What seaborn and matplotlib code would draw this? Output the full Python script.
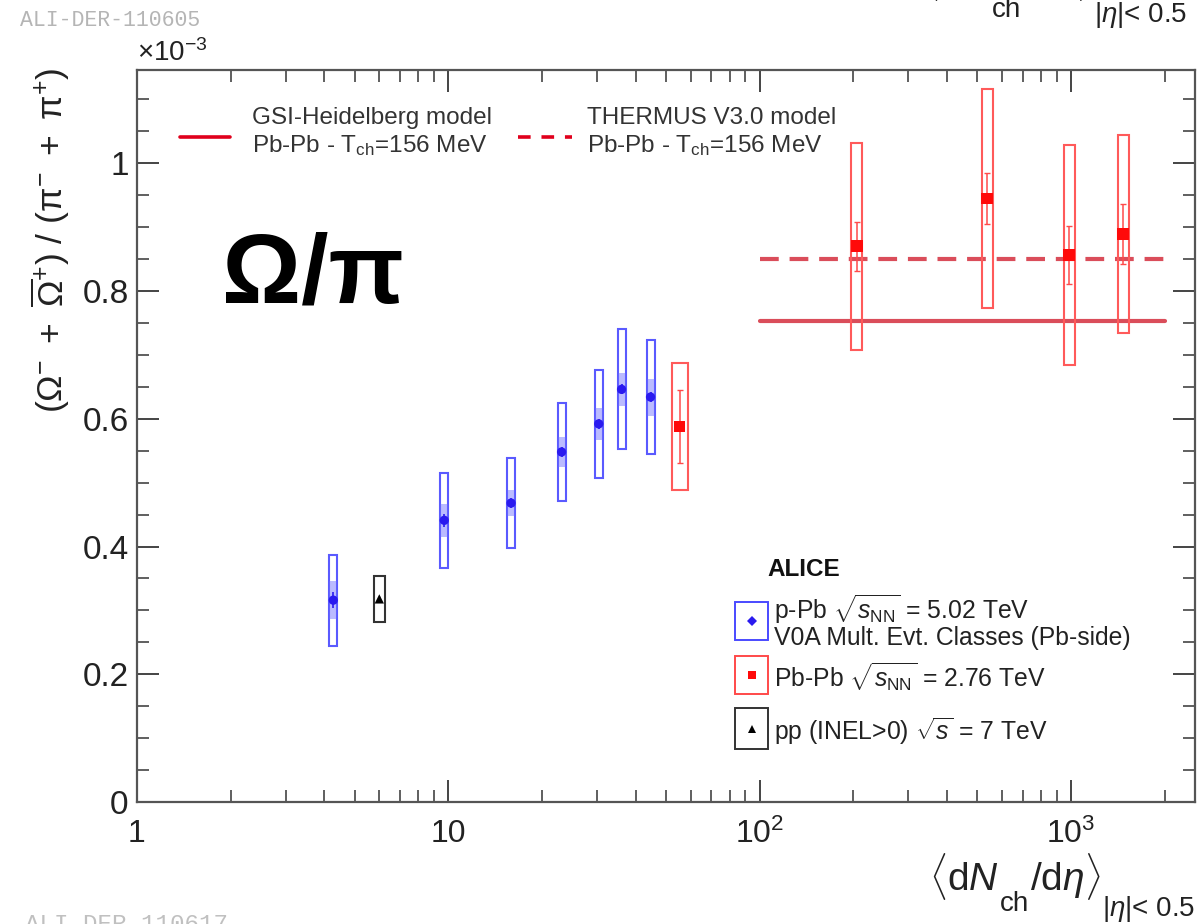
import numpy as np
import pandas as pd
import matplotlib
matplotlib.use("Agg")
import matplotlib.pyplot as plt
from matplotlib.patches import Rectangle
from matplotlib.lines import Line2D
from matplotlib.ticker import FixedLocator, FuncFormatter, LogLocator, NullFormatter
import seaborn as sns

# ---------------- data (y in units of 1e-3) ----------------
ppb_x = [4.27, 9.7, 15.9, 23.1, 30.4, 36.0, 44.6]
ppb_y = [0.316, 0.441, 0.468, 0.548, 0.592, 0.646, 0.634]
ppb_sys = [0.071, 0.074, 0.071, 0.077, 0.084, 0.094, 0.089]
ppb_unc = [0.030, 0.026, 0.020, 0.023, 0.025, 0.026, 0.029]
ppb_stat = [0.012, 0.010, 0.008, 0.008, 0.008, 0.008, 0.008]

pp_x = [6.0]
pp_y = [0.318]
pp_sys = [0.036]
pp_stat = [0.005]

pbpb_x = [55.3, 205, 537, 986, 1469]
pbpb_y = [0.588, 0.870, 0.945, 0.856, 0.889]
pbpb_sys = [0.100, 0.162, 0.172, 0.172, 0.155]
pbpb_stat = [0.057, 0.038, 0.040, 0.045, 0.047]

gsi_value = 0.753
thermus_value = 0.850
model_x = [100, 2000]

x_ticks = [1, 10, 100, 1000]
x_ticklabels = ["1", "10", r"$10^{2}$", r"$10^{3}$"]
y_ticks = [0, 0.2, 0.4, 0.6, 0.8, 1.0]

# ---------------- style ----------------
sns.set_style("ticks")
plt.rcParams["font.family"] = ["Liberation Sans", "DejaVu Sans"]
plt.rcParams["mathtext.fontset"] = "custom"
plt.rcParams["mathtext.rm"] = "Liberation Sans"
plt.rcParams["mathtext.it"] = "Liberation Sans:italic"
plt.rcParams["mathtext.bf"] = "Liberation Sans:bold"

W, H = 1198, 924
fig = plt.figure(figsize=(W / 100, H / 100), dpi=100)
L, R, T, B = 137, 1195, 70, 802
ax = fig.add_axes([L / W, 1 - B / H, (R - L) / W, (B - T) / H])
ax.set_xscale("log")
ax.set_xlim(1, 2500)
ax.set_ylim(0, 1.146)

def fx(px):
    return px / W

def fy(py):
    return 1 - py / H

DEC = 311.0  # pixels per decade

def box(x, y, dy, half_px, ec, fc="none", lw=1.3, alpha=1.0, z=3):
    hw = half_px / DEC
    x0 = x / 10 ** hw
    x1 = x * 10 ** hw
    ax.add_patch(Rectangle((x0, y - dy), x1 - x0, 2 * dy, facecolor=fc,
                           edgecolor=ec, lw=lw, alpha=alpha, zorder=z))

blue = "#2a1aef"
red = "#ff0a0a"

# model lines
ax.plot(model_x, [gsi_value] * 2, color="#d63a48", lw=3.0, alpha=0.9, zorder=2)
ax.plot(model_x, [thermus_value] * 2, color="#d63a48", lw=3.0, alpha=0.9,
        ls=(0, (4.5, 2.6)), zorder=2)

# p-Pb
for x, y, s, u in zip(ppb_x, ppb_y, ppb_sys, ppb_unc):
    box(x, y, s, 4, "#5a5aff", lw=1.5)
    box(x, y, u, 4, "none", fc="#6a6aff", alpha=0.45, lw=0)
ax.errorbar(ppb_x, ppb_y, yerr=ppb_stat, fmt="none", ecolor=blue, elinewidth=1.2, zorder=4)

# pp
for x, y, s in zip(pp_x, pp_y, pp_sys):
    box(x, y, s, 5.5, "#333333", lw=1.5)
ax.errorbar(pp_x, pp_y, yerr=pp_stat, fmt="none", ecolor="black", elinewidth=1.0, zorder=4)

# Pb-Pb
for i, (x, y, s) in enumerate(zip(pbpb_x, pbpb_y, pbpb_sys)):
    box(x, y, s, 8 if i == 0 else 5.5, "#ff5a5a", lw=1.5)
ax.errorbar(pbpb_x, pbpb_y, yerr=pbpb_stat, fmt="none", ecolor="#ff4a4a",
            elinewidth=1.1, capsize=2, capthick=1, zorder=4)

df_ppb = pd.DataFrame({"x": ppb_x, "y": ppb_y})
df_pp = pd.DataFrame({"x": pp_x, "y": pp_y})
df_pbpb = pd.DataFrame({"x": pbpb_x, "y": pbpb_y})
sns.scatterplot(data=df_ppb, x="x", y="y", ax=ax, color=blue, marker="o", s=45,
                edgecolor="none", zorder=5, legend=False)
sns.scatterplot(data=df_pp, x="x", y="y", ax=ax, color="black", marker="^", s=45,
                edgecolor="none", zorder=5, legend=False)
sns.scatterplot(data=df_pbpb, x="x", y="y", ax=ax, color=red, marker="s", s=70,
                edgecolor="none", zorder=5, legend=False)

# ---------------- axes ----------------
ax.set_xlabel("")
ax.set_ylabel("")
ax.xaxis.set_major_locator(FixedLocator(x_ticks))
ax.set_xticklabels(x_ticklabels)
ax.xaxis.set_minor_locator(LogLocator(base=10, subs=np.arange(2, 10)))
ax.xaxis.set_minor_formatter(NullFormatter())
ax.yaxis.set_major_locator(FixedLocator(y_ticks))
ax.yaxis.set_minor_locator(FixedLocator(np.arange(0, 1.15, 0.05)))
ax.yaxis.set_major_formatter(FuncFormatter(lambda v, p: "%g" % round(v, 3)))
for sp in ax.spines.values():
    sp.set_visible(True)
    sp.set_linewidth(1.6)
    sp.set_color("#555555")
ax.tick_params(which="both", direction="in", top=True, right=True, colors="#444444",
               labelcolor="#222222")
ax.tick_params(which="major", length=16, width=1.4, labelsize=23)
ax.tick_params(which="minor", length=8.5, width=1.2)
ax.tick_params(axis="y", which="major", labelsize=24)
ax.tick_params(axis="x", which="major", pad=12)
ax.tick_params(axis="y", which="major", pad=6)

# ---------------- texts ----------------
renderer = fig.canvas.get_renderer()

def rooted_label(x_left, baseline, ch_drop=21, sub_drop=26):
    """x-axis title assembled ROOT-style, with low-set subscripts."""
    pieces = [
        (r"$\langle\mathrm{d}N$", 28, 0),
        ("ch", 20, ch_drop),
        (r"$/\mathrm{d}\eta\rangle$", 28, 0),
        (r"$|\eta|$< 0.5", 20, sub_drop),
    ]
    x = x_left
    for txt, size, drop in pieces:
        t = fig.text(fx(x), fy(baseline + drop), txt, fontsize=size, ha="left",
                     va="baseline", color="#222222")
        bb = t.get_window_extent(renderer)
        x += bb.width + 1

fig.text(fx(137), fy(53), r"$\times 10^{-3}$", fontsize=20, color="#222222",
         ha="left", va="center")
fig.text(fx(50), fy(240),
         r"$(\Omega^{-}\ +\ \overline{\Omega}^{+})\ /\ (\mathrm{π}^{-}\ +\ \mathrm{π}^{+})$",
         rotation=90, fontsize=25.5, ha="center", va="center", color="#222222")
rooted_label(929, 890)
rooted_label(921, -9, ch_drop=26, sub_drop=31)
fig.text(fx(20), fy(20), "ALI-DER-110605", family=["Liberation Mono", "DejaVu Sans Mono"],
         fontsize=15.5, color="#b5b5b5", ha="left", va="center")
fig.text(fx(25), fy(913), "ALI-DER-110617", family=["Liberation Mono", "DejaVu Sans Mono"],
         fontsize=17.5, color="#c0c0c0", ha="left", va="top")
fig.text(fx(313), fy(277), "Ω/π", fontsize=71, fontweight="bold", ha="center",
         va="center", color="black")

# top model legend
fig.add_artist(Line2D([fx(180), fx(230)], [fy(137), fy(137)], color="#e0001c", lw=2.6))
fig.add_artist(Line2D([fx(518), fx(572)], [fy(137), fy(137)], color="#e0001c", lw=2.6,
                      ls=(0, (3.5, 3))))
for xl, title in [(252, "GSI-Heidelberg model"), (587, "THERMUS V3.0 model")]:
    fig.text(fx(xl), fy(118), title, fontsize=17.5, color="#333333", ha="left", va="center")
    fig.text(fx(xl), fy(146), r"Pb-Pb - T$_{\mathrm{ch}}$=156 MeV", fontsize=17.5,
             color="#333333", ha="left", va="center")

# bottom data legend
fig.text(fx(767), fy(569), "ALICE", fontsize=17.5, fontweight="bold", color="#111111",
         ha="left", va="center")
leg_items = [
    (602, 640, "#4a4aff", blue, "D", 5),
    (656, 694, "#ff4a4a", red, "s", 6),
    (708, 749, "#333333", "black", "^", 6),
]
for top, bot, ec, mc, mk, ms in leg_items:
    fig.add_artist(Rectangle((fx(735), fy(bot)), fx(768) - fx(735), fy(top) - fy(bot),
                             transform=fig.transFigure, fill=False, edgecolor=ec, lw=1.4))
    fig.add_artist(Line2D([fx(751.5)], [fy((top + bot) / 2)], marker=mk, color=mc,
                          markersize=ms, markeredgewidth=0, linestyle="none"))
fs = 17.8
fig.text(fx(774), fy(609), r"p-Pb $\sqrt{s_{\mathrm{NN}}}$ = 5.02 TeV", fontsize=fs,
         color="#222222", ha="left", va="center")
fig.text(fx(774), fy(638), "V0A Mult. Evt. Classes (Pb-side)", fontsize=fs,
         color="#222222", ha="left", va="center")
fig.text(fx(774), fy(677), r"Pb-Pb $\sqrt{s_{\mathrm{NN}}}$ = 2.76 TeV", fontsize=fs,
         color="#222222", ha="left", va="center")
fig.text(fx(774), fy(731), r"pp (INEL>0) $\sqrt{s}$ = 7 TeV", fontsize=fs,
         color="#222222", ha="left", va="center")

fig.savefig("out.png", dpi=100, facecolor="white")
